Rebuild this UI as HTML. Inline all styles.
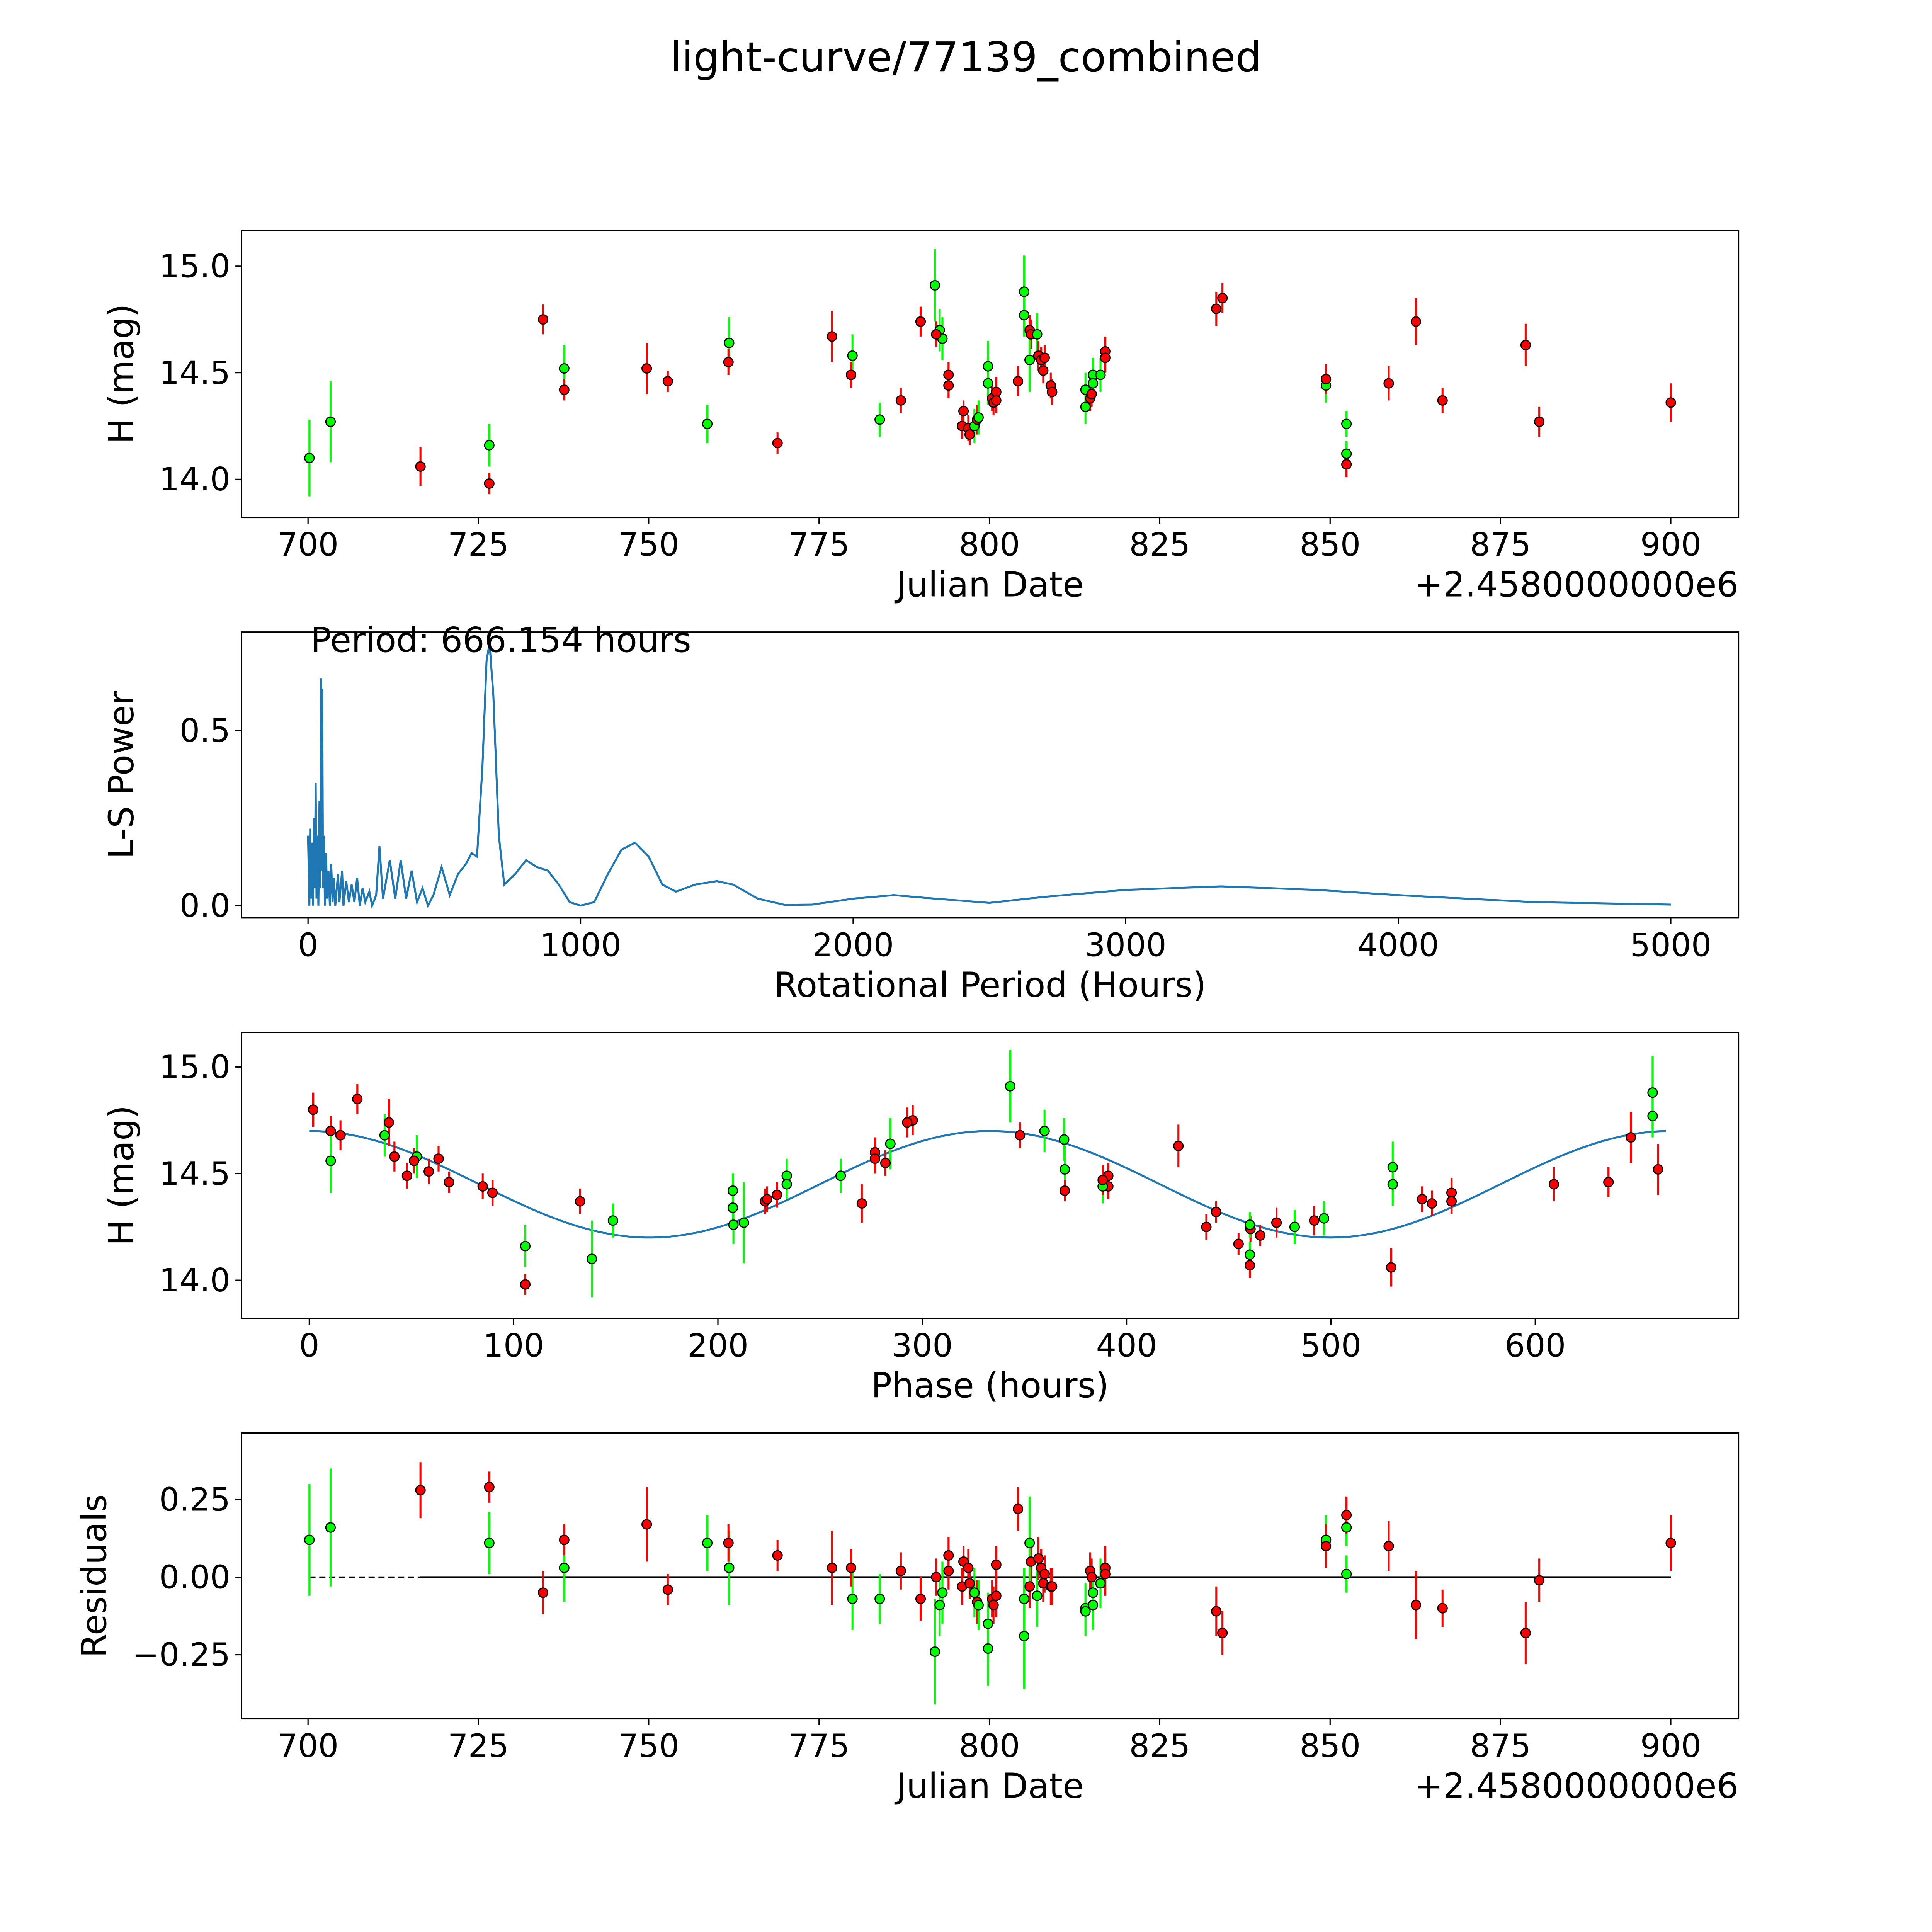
<!DOCTYPE html>
<html><head><meta charset="utf-8">
<style>
html,body{margin:0;padding:0;background:#fff;overflow:hidden;width:100%;height:100%;}
svg{display:block;width:100vw;height:100vh;font-family:"DejaVu Sans","Liberation Sans",sans-serif;}
</style></head>
<body>
<svg id="chart" viewBox="0 0 1568 1568" preserveAspectRatio="none" xmlns="http://www.w3.org/2000/svg">
<text x="784" y="58" font-size="33.5" text-anchor="middle">light-curve/77139_combined</text>
</svg>
<script>
// ---- data ----
const obsDate = [700.2,703.3,716.5,726.6,726.6,734.5,737.6,737.6,749.7,752.8,758.6,761.8,761.7,768.9,776.9,779.9,779.7,783.9,787.0,789.9,792.0,792.7,793.1,792.2,794.0,794.0,796.2,796.0,796.9,797.1,797.8,798.2,798.4,799.8,799.8,800.4,800.6,801.0,801.0,804.2,805.1,805.1,805.9,806.1,805.9,807.0,807.2,807.6,808.1,807.9,809.0,809.2,814.1,814.1,814.8,815.0,815.2,815.2,816.3,817.0,817.0,833.3,834.2,849.4,849.4,852.4,852.4,852.4,858.6,862.6,866.5,878.7,880.7,900.0];
const obsMag = [14.10,14.27,14.06,14.16,13.98,14.75,14.52,14.42,14.52,14.46,14.26,14.64,14.55,14.17,14.67,14.58,14.49,14.28,14.37,14.74,14.91,14.70,14.66,14.68,14.49,14.44,14.32,14.25,14.24,14.21,14.25,14.28,14.29,14.53,14.45,14.38,14.36,14.41,14.37,14.46,14.88,14.77,14.70,14.68,14.56,14.68,14.58,14.56,14.57,14.51,14.44,14.41,14.42,14.34,14.38,14.40,14.49,14.45,14.49,14.60,14.57,14.80,14.85,14.44,14.47,14.26,14.12,14.07,14.45,14.74,14.37,14.63,14.27,14.36];
const obsErr = [0.18,0.19,0.09,0.10,0.05,0.07,0.11,0.05,0.12,0.05,0.09,0.12,0.06,0.05,0.12,0.10,0.06,0.08,0.06,0.07,0.17,0.10,0.10,0.06,0.06,0.06,0.05,0.06,0.06,0.05,0.08,0.07,0.08,0.12,0.10,0.06,0.06,0.07,0.06,0.07,0.17,0.10,0.07,0.07,0.15,0.10,0.07,0.06,0.06,0.06,0.06,0.06,0.08,0.08,0.06,0.06,0.08,0.07,0.08,0.07,0.07,0.08,0.07,0.08,0.07,0.06,0.06,0.06,0.08,0.11,0.06,0.10,0.07,0.09];
const obsBand = ["g","g","r","g","r","r","g","r","r","r","g","g","r","r","r","g","r","g","r","r","g","g","g","r","r","r","r","r","r","r","g","r","g","g","g","r","r","r","r","r","g","g","r","r","g","g","r","r","r","r","r","r","g","g","r","r","g","g","g","r","r","r","r","g","r","g","g","r","r","r","r","r","r","r"];
const obsResid = [0.12,0.16,0.28,0.11,0.29,-0.05,0.03,0.12,0.17,-0.04,0.11,0.03,0.11,0.07,0.03,-0.07,0.03,-0.07,0.02,-0.07,-0.24,-0.09,-0.05,0.0,0.07,0.02,0.05,-0.03,0.03,-0.02,-0.05,-0.08,-0.09,-0.23,-0.15,-0.07,-0.09,-0.06,0.04,0.22,-0.19,-0.07,-0.03,0.05,0.11,-0.06,0.06,0.03,0.01,-0.02,-0.03,-0.03,-0.10,-0.11,0.02,0.0,-0.09,-0.05,-0.02,0.03,0.01,-0.11,-0.18,0.12,0.10,0.16,0.01,0.20,0.10,-0.09,-0.10,-0.18,-0.01,0.11];
const pgPeriod = [0,5,8,12,15,18,22,25,28,31,35,38,42,45,48,50,52,55,58,62,66,70,75,80,85,90,95,100,110,115,125,130,140,150,160,170,180,190,200,210,225,235,250,262,275,300,320,340,360,380,400,420,440,460,490,520,550,580,600,620,640,655,666,680,700,720,760,800,840,880,920,960,1000,1050,1100,1150,1200,1250,1300,1350,1420,1500,1560,1650,1750,1850,2000,2150,2300,2500,2700,3000,3350,3700,4000,4500,5000];
const pgPower = [0.2,0,0.22,0.02,0.18,0,0.25,0.05,0.35,0.02,0.2,0,0.3,0.05,0.65,0.1,0.62,0.05,0.2,0,0.15,0.02,0.1,0,0.12,0.01,0.08,0,0.09,0.01,0.1,0,0.07,0.01,0.06,0.01,0.08,0,0.05,0.01,0.04,0,0.03,0.17,0.02,0.13,0.02,0.13,0.02,0.1,0.01,0.05,0,0.03,0.11,0.03,0.09,0.12,0.15,0.14,0.4,0.7,0.75,0.6,0.2,0.06,0.09,0.13,0.11,0.1,0.06,0.01,0.0,0.01,0.09,0.16,0.18,0.14,0.06,0.04,0.06,0.07,0.06,0.02,0.002,0.003,0.02,0.03,0.02,0.008,0.025,0.045,0.055,0.045,0.03,0.01,0.003];
const dateTicks = [700,725,750,775,800,825,850,875,900];
const magTicks = [14.0,14.5,15.0];
const powTicks = [0.0,0.5];
const perTicks = [0,1000,2000,3000,4000,5000];
const phaseTicks = [0,100,200,300,400,500,600];
const residTicks = [-0.25,0.00,0.25];
const PERIOD = 666.154, T0 = 833.22, MEAN = 14.45, AMP = 0.25;

// ---- helpers ----
const svg = document.getElementById('chart');
const NS = 'http://www.w3.org/2000/svg';
function mk(tag, attrs, parent){const e=document.createElementNS(NS,tag);for(const k in attrs)e.setAttribute(k,attrs[k]);(parent||svg).appendChild(e);return e;}
function lin(d0,d1,r0,r1){return v=>r0+(v-d0)*(r1-r0)/(d1-d0);}
const L=196,R=1411;
function axes(name,top,bot,xs,ys,xt,yt,xfmt,yfmt,xlabel,ylabel){
  const g=mk('g',{});
  
  
  const fr=mk('rect',{x:L,y:top,width:R-L,height:bot-top,fill:'none',stroke:'#000','stroke-width':1.1},g);
  
  
  xt.forEach(v=>{const x=xs(v);mk('line',{x1:x,x2:x,y1:bot,y2:bot+5,stroke:'#000'},g);
    const t=mk('text',{x:x,y:bot+31,'font-size':26,'text-anchor':'middle'},g);t.textContent=xfmt(v);
    
    });
  yt.forEach(v=>{const y=ys(v);mk('line',{x1:L-5,x2:L,y1:y,y2:y,stroke:'#000'},g);
    const t=mk('text',{x:L-9,y:y+9,'font-size':26,'text-anchor':'end'},g);t.textContent=yfmt(v);
    
    });
  const xl=mk('text',{x:(L+R)/2,y:bot+64,'font-size':28,'text-anchor':'middle'},g);xl.textContent=xlabel;
  
  
  const cy=(top+bot)/2;
  const yl=mk('text',{x:0,y:0,'font-size':28,'text-anchor':'middle',transform:`translate(${ylabel==='Residuals'?86:108},${cy}) rotate(-90)`},g);yl.textContent=ylabel;
  
  
  return g;
}
const col=b=>b==='g'?'#00ff00':'#ff0000';
function points(g,xs,ys,xv,yv){
  for(let i=0;i<xv.length;i++){
    const x=xs(xv[i]);
    const eb=mk('line',{x1:x,x2:x,y1:ys(yv[i]+obsErr[i]),y2:ys(yv[i]-obsErr[i]),stroke:col(obsBand[i]),'stroke-width':1.6},g);
    
    
  }
  for(let i=0;i<xv.length;i++){
    const c=mk('circle',{cx:xs(xv[i]),cy:ys(yv[i]),r:3.8,fill:col(obsBand[i]),stroke:'#000','stroke-width':0.9},g);
    
    
  }
}
const fmt1=v=>v.toFixed(1), fmt0=v=>String(v), fmt2=v=>(v<0?'\u2212':'')+Math.abs(v).toFixed(2);
const xsDate=lin(700,900,250,1356);
const offs=(y,n)=>{const t=mk('text',{x:R,y:y,'font-size':28,'text-anchor':'end'});t.textContent='+2.4580000000e6';
  
  };

// Panel 1
const ys1=lin(14.0,15.0,389,216);
const g1=axes('lightcurve-panel',187,420,xsDate,ys1,dateTicks,magTicks,fmt0,fmt1,'Julian Date','H (mag)');
points(g1,xsDate,ys1,obsDate,obsMag);
offs(484,'x-offset-label-top');

// Panel 2
const xs2=lin(0,5000,250,1356), ys2=lin(0,0.5,735,593);
const g2=axes('periodogram-panel',513,745,xs2,ys2,perTicks,powTicks,fmt0,fmt1,'Rotational Period (Hours)','L-S Power');
const pl=mk('polyline',{points:pgPeriod.map((p,i)=>xs2(p)+','+ys2(pgPower[i])).join(' '),fill:'none',stroke:'#1f77b4','stroke-width':1.6},g2);


const pt=mk('text',{x:252,y:529,'font-size':28},g2);pt.textContent='Period: 666.154 hours';



// Panel 3
const xs3=lin(0,600,251,1246), ys3=lin(14.0,15.0,1039,866);
const g3=axes('phase-panel',838,1070,xs3,ys3,phaseTicks,magTicks,fmt0,fmt1,'Phase (hours)','H (mag)');
const model=ph=>MEAN+AMP*Math.cos(4*Math.PI*ph/PERIOD);
const mp=[];for(let p=0;p<=PERIOD;p+=4)mp.push(xs3(p)+','+ys3(model(p)));
const ml=mk('polyline',{points:mp.join(' '),fill:'none',stroke:'#1f77b4','stroke-width':1.6},g3);


const phases=obsDate.map(d=>{let p=((d-T0)*24)%PERIOD;return p<0?p+PERIOD:p;});
points(g3,xs3,ys3,phases,obsMag);

// Panel 4
const ys4=lin(0,0.25,1280,1217);
const g4=axes('residuals-panel',1163,1395,xsDate,ys4,dateTicks,residTicks,fmt0,fmt2,'Julian Date','Residuals');
const dl=mk('line',{x1:xsDate(700.2),x2:xsDate(900),y1:ys4(0),y2:ys4(0),stroke:'#000','stroke-width':1.2,'stroke-dasharray':'5,3'},g4);


const sl=mk('line',{x1:xsDate(716.5),x2:xsDate(900),y1:ys4(0),y2:ys4(0),stroke:'#000','stroke-width':1.4},g4);


points(g4,xsDate,ys4,obsDate,obsResid);
offs(1459,'x-offset-label-bottom');
</script>
</body></html>
